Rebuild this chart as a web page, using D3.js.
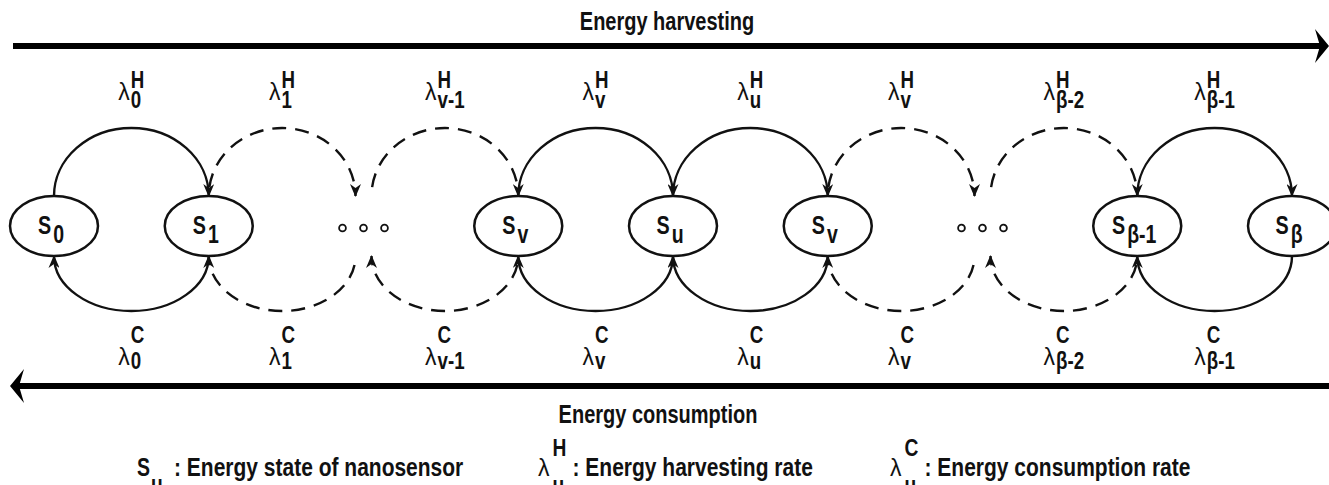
<!DOCTYPE html>
<html>
<head>
<meta charset="utf-8">
<script src="https://cdn.jsdelivr.net/npm/d3@7"></script>
<style>
  body { margin: 0; background: #fff; }
  text { font-family: 'Liberation Sans Narrow', 'Arial Narrow', 'Liberation Sans', Arial, sans-serif; font-weight: bold; fill: #111; }
  .lam { font-family: 'Liberation Sans', Arial, sans-serif; font-weight: normal; }
</style>
</head>
<body>
<div id="chart"></div>
<script>
const FRAME_WIDTH = 1329;
const FRAME_HEIGHT = 485;

// states of the chain, null = the "o o o" gap
const STATE_SUBS = ["0", "1", null, "v", "u", "v", null, "β-1", "β"];
// one transition per pair of neighbouring states
const HARVEST_SUBS = ["0", "1", "v-1", "v", "u", "v", "β-2", "β-1"];
const CONSUME_SUBS = ["0", "1", "v-1", "v", "u", "v", "β-2", "β-1"];
const TITLES = ["Energy harvesting", "Energy consumption"];
const LEGEND_SYMBOLS = ["S", "λ", "λ"];
const LEGEND_SUPS = [null, "H", "C"];
const LEGEND_TEXT = ["Energy state of nanosensor", "Energy harvesting rate", "Energy consumption rate"];

const CY = 226, RX = 44, RY = 30;
const TOP_Y = CY - RY, BOT_Y = CY + RY;

const svg = d3.select("#chart")
  .append("svg")
    .attr("width", FRAME_WIDTH)
    .attr("height", FRAME_HEIGHT);

// condensed bold text (no narrow face installed), returns [selection, width]
function ctext(parent, x, y, str, size, sx, anchor) {
  const t = parent.append("text")
      .attr("transform", `translate(${x},${y}) scale(${sx},1)`)
      .attr("font-size", size)
      .attr("text-anchor", anchor || "start")
      .text(str);
  return [t, t.node().getComputedTextLength() * sx];
}

const X_SCALE = d3.scalePoint()
  .domain(d3.range(STATE_SUBS.length))
  .range([54, 1292]);

// arrow heads for the transitions
svg.append("defs").append("marker")
    .attr("id", "head")
    .attr("viewBox", "0 0 13 11")
    .attr("refX", 12).attr("refY", 5.5)
    .attr("markerUnits", "userSpaceOnUse")
    .attr("markerWidth", 13).attr("markerHeight", 11)
    .attr("orient", "auto")
  .append("path")
    .attr("d", "M0,0 L13,5.5 L0,11 L4,5.5 Z")
    .attr("fill", "#111");

// gap nodes are entered a bit left, left a bit right
const leftX = (i) => X_SCALE(i) - (STATE_SUBS[i] === null ? 8 : 0);
const rightX = (i) => X_SCALE(i) + (STATE_SUBS[i] === null ? 8 : 0);
const dashed = (i) => STATE_SUBS[i] === null || STATE_SUBS[i + 1] === null;

// harvesting arcs (left -> right, over the top)
svg.selectAll(".harv")
  .data(HARVEST_SUBS)
  .enter()
  .append("path")
    .attr("class", "harv")
    .attr("d", (d, i) => {
      const x1 = rightX(i), x2 = leftX(i + 1);
      return `M${x1},${TOP_Y} A${(x2 - x1) / 2},68 0 0 1 ${x2},${TOP_Y}`;
    })
    .attr("fill", "none")
    .attr("stroke", "#111")
    .attr("stroke-width", 2.4)
    .attr("stroke-dasharray", (d, i) => dashed(i) ? "14,9" : null)
    .attr("stroke-dashoffset", (d, i) => dashed(i) ? 14 : null)
    .attr("marker-end", "url(#head)");

// consumption arcs (right -> left, under the bottom)
svg.selectAll(".cons")
  .data(CONSUME_SUBS)
  .enter()
  .append("path")
    .attr("class", "cons")
    .attr("d", (d, i) => {
      const x1 = rightX(i), x2 = leftX(i + 1);
      return `M${x2},${BOT_Y} A${(x2 - x1) / 2},55 0 0 1 ${x1},${BOT_Y}`;
    })
    .attr("fill", "none")
    .attr("stroke", "#111")
    .attr("stroke-width", 2.4)
    .attr("stroke-dasharray", (d, i) => dashed(i) ? "14,9" : null)
    .attr("stroke-dashoffset", (d, i) => dashed(i) ? 14 : null)
    .attr("marker-end", "url(#head)");

// states
const states = svg.selectAll(".state")
  .data(STATE_SUBS.map((s, i) => ({s, i})).filter(d => d.s !== null))
  .enter()
  .append("g")
    .attr("class", "state")
    .attr("transform", d => `translate(${X_SCALE(d.i)},${CY})`);

states.append("ellipse")
    .attr("rx", RX).attr("ry", RY)
    .attr("fill", "#fff")
    .attr("stroke", "#111")
    .attr("stroke-width", 2.5);

states.each(function(d) {
  const g = d3.select(this).append("g");
  const [, sw] = ctext(g, 0, 8, "S", 26, 0.76);
  const [, bw] = ctext(g, sw + 2, 17, d.s, 25, 0.78);
  g.attr("transform", `translate(${-(sw + 2 + bw) / 2 - 3},0)`);
});

// gaps "o o o"
const gaps = STATE_SUBS.map((s, i) => i).filter(i => STATE_SUBS[i] === null);
svg.selectAll(".gap")
  .data(gaps.flatMap(i => [-1, 0, 1].map(k => ({i, k}))))
  .enter()
  .append("circle")
    .attr("cx", d => X_SCALE(d.i) + d.k * 21)
    .attr("cy", 228)
    .attr("r", 3.4)
    .attr("fill", "#fff")
    .attr("stroke", "#111")
    .attr("stroke-width", 1.8);

// λ with stacked super/subscript
function rateLabel(parent, cx, base, supText, subText, supY, subY) {
  const g = parent.append("g");
  const lam = g.append("text").attr("class", "lam").attr("font-size", 23)
      .attr("x", 0).attr("y", base).text("λ");
  const lw = lam.node().getComputedTextLength();
  const [, pw] = ctext(g, lw + 1, supY, supText, 24, 0.78);
  const [, bw] = ctext(g, lw + 1, subY, subText, 24, 0.78);
  const w = lw + 1 + Math.max(pw, bw);
  g.attr("transform", `translate(${cx - w / 2},0)`);
  return g;
}

HARVEST_SUBS.forEach((s, i) => {
  rateLabel(svg, (rightX(i) + leftX(i + 1)) / 2, 100, "H", s, 88, 108);
});
CONSUME_SUBS.forEach((s, i) => {
  rateLabel(svg, (rightX(i) + leftX(i + 1)) / 2, 365, "C", s, 343, 369);
});

// big direction arrows
svg.append("line")
    .attr("x1", 13).attr("x2", 1322).attr("y1", 46).attr("y2", 46)
    .attr("stroke", "#000").attr("stroke-width", 6);
svg.append("path")
    .attr("d", "M1329,46 L1315,29 L1320,46 L1315,63 Z")
    .attr("fill", "#000");

svg.append("line")
    .attr("x1", 19).attr("x2", FRAME_WIDTH).attr("y1", 386).attr("y2", 386)
    .attr("stroke", "#000").attr("stroke-width", 6);
svg.append("path")
    .attr("d", "M10,386 L24,369 L19,386 L24,403 Z")
    .attr("fill", "#000");

ctext(svg, 667, 30, TITLES[0], 25, 0.8, "middle");
ctext(svg, 658, 423, TITLES[1], 25, 0.8, "middle");

// legend
const LEGEND_X = [137, 538, 890];
LEGEND_SYMBOLS.forEach((sym, i) => {
  const g = svg.append("g").attr("transform", `translate(${LEGEND_X[i]},0)`);
  let tx;
  if (sym === "S") {
    const sw = ctext(g, 0, 476, sym, 25, 0.78)[1];
    ctext(g, sw + 1, 492, "u", 24, 0.8);
    tx = 37;
  } else {
    const s = g.append("text").attr("class", "lam").attr("font-size", 23).attr("y", 476).text(sym);
    const sw = s.node().getComputedTextLength();
    ctext(g, sw + 3, 456, LEGEND_SUPS[i], 24, 0.8);
    ctext(g, sw + 3, 493, "u", 24, 0.8);
    tx = sw + 23;
  }
  ctext(g, tx, 476, ": " + LEGEND_TEXT[i], 25, 0.84);
});
</script>
</body>
</html>
